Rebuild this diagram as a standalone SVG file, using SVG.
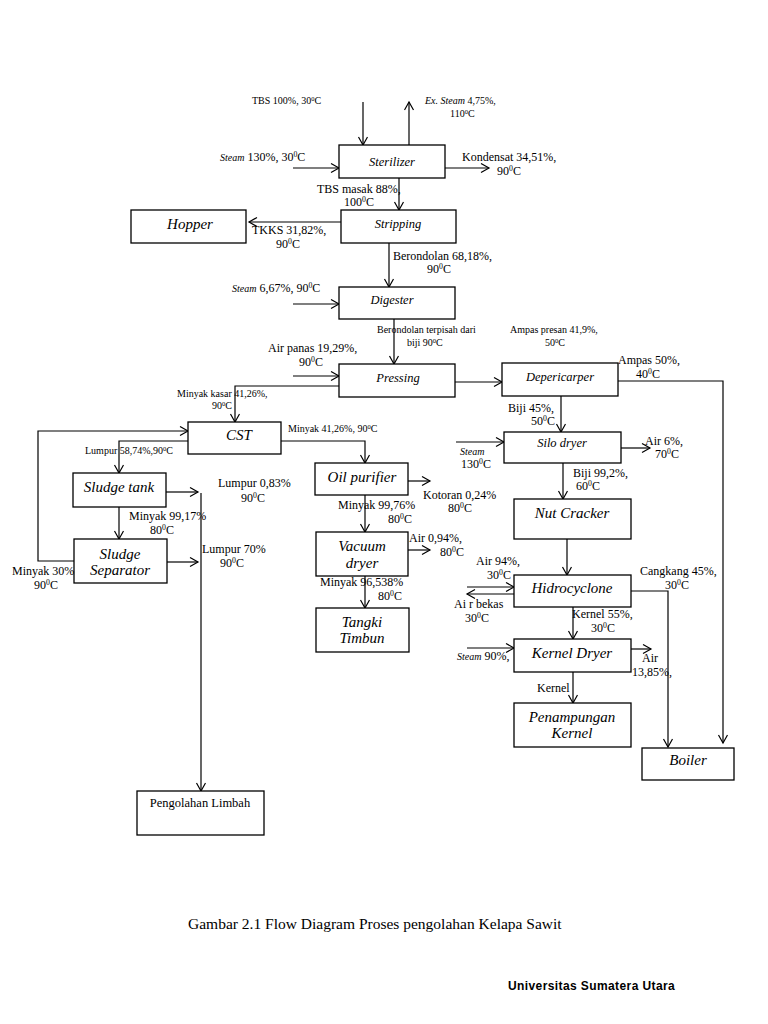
<svg xmlns="http://www.w3.org/2000/svg" width="768" height="1024" viewBox="0 0 768 1024">
<defs>
<marker id="a" markerUnits="userSpaceOnUse" markerWidth="12" markerHeight="12" refX="9" refY="5" orient="auto"><path d="M1,0.5 L9,5 L1,9.5" fill="none" stroke="#000" stroke-width="1.2"/></marker>
<style>
.box{fill:#fff;stroke:#000;stroke-width:1.3}
.c{fill:none;stroke:#000;stroke-width:1.2}
.ar{marker-end:url(#a)}
text{font-family:"Liberation Serif","Times New Roman",serif;fill:#000}
.n{font-style:italic;text-anchor:middle;font-size:15px}
.ns{font-style:italic;text-anchor:middle;font-size:12.5px}
.l{font-size:12px}
.s{font-size:10px}
.i{font-style:italic}
.sup{font-size:65%;baseline-shift:super}
</style>
</defs>
<rect width="768" height="1024" fill="#fff"/>
<g id="connectors">
<path class="c ar" d="M363,102 V145"/>
<path class="c ar" d="M409,145 V102"/>
<path class="c ar" d="M293,168 H339"/>
<path class="c ar" d="M445,168 H489"/>
<path class="c ar" d="M399,178 V210"/>
<path class="c ar" d="M341,222 H249"/>
<path class="c ar" d="M389,243 V287"/>
<path class="c ar" d="M293,304 H339"/>
<path class="c ar" d="M394,319 V364"/>
<path class="c ar" d="M293,376 H339"/>
<path class="c ar" d="M455,382 H502"/>
<path class="c ar" d="M339,386 H235 V422"/>
<path class="c ar" d="M618,381 H723 V743"/>
<path class="c ar" d="M281,441 H365 V463"/>
<path class="c ar" d="M188,441 H119 V473"/>
<path class="c ar" d="M119,507 V539"/>
<path class="c ar" d="M166,492 H198"/>
<path class="c ar" d="M201,493 V791"/>
<path class="c ar" d="M167,562 H198"/>
<path class="c ar" d="M74,561 H38 V431 H188"/>
<path class="c ar" d="M408,481 H430"/>
<path class="c ar" d="M365,495 V532"/>
<path class="c ar" d="M408,550 H430"/>
<path class="c ar" d="M365,576 V608"/>
<path class="c ar" d="M561,396 V432"/>
<path class="c ar" d="M456,442 H504"/>
<path class="c ar" d="M618,448 H650"/>
<path class="c ar" d="M563,463 V499"/>
<path class="c ar" d="M567,539 V575"/>
<path class="c ar" d="M467,587 H514"/>
<path class="c ar" d="M514,594 H467"/>
<path class="c ar" d="M631,591 H668 V747"/>
<path class="c ar" d="M573,607 V639"/>
<path class="c ar" d="M467,648 H514"/>
<path class="c ar" d="M631,649 H651"/>
<path class="c ar" d="M573,672 V703"/>
</g>
<g id="sterilizer"><rect class="box" x="339" y="145" width="106" height="33"/><text class="ns" x="392" y="166">Sterilizer</text></g>
<g id="stripping"><rect class="box" x="341" y="210" width="115" height="33"/><text class="ns" x="398" y="228">Stripping</text></g>
<g id="hopper"><rect class="box" x="131" y="210" width="115" height="33"/><text class="n" x="190" y="229">Hopper</text></g>
<g id="digester"><rect class="box" x="339" y="287" width="116" height="32"/><text class="ns" x="392" y="304">Digester</text></g>
<g id="pressing"><rect class="box" x="339" y="364" width="116" height="33"/><text class="ns" x="398" y="382">Pressing</text></g>
<g id="depericarper"><rect class="box" x="502" y="363" width="116" height="33"/><text class="ns" x="560" y="381">Depericarper</text></g>
<g id="cst"><rect class="box" x="188" y="422" width="93" height="32"/><text class="n" x="239" y="440">CST</text></g>
<g id="sludge-tank"><rect class="box" x="73" y="473" width="93" height="34"/><text class="n" x="119" y="492">Sludge tank</text></g>
<g id="sludge-separator"><rect class="box" x="74" y="539" width="93" height="44"/><text class="n" x="120" y="559">Sludge</text><text class="n" x="120" y="575">Separator</text></g>
<g id="oil-purifier"><rect class="box" x="315" y="463" width="93" height="32"/><text class="n" x="362" y="482">Oil purifier</text></g>
<g id="vacuum-dryer"><rect class="box" x="316" y="532" width="92" height="44"/><text class="n" x="362" y="551">Vacuum</text><text class="n" x="362" y="568">dryer</text></g>
<g id="tangki-timbun"><rect class="box" x="316" y="608" width="93" height="44"/><text class="n" x="362" y="627">Tangki</text><text class="n" x="362" y="643">Timbun</text></g>
<g id="silo-dryer"><rect class="box" x="504" y="432" width="117" height="31"/><text class="ns" x="562" y="447">Silo dryer</text></g>
<g id="nut-cracker"><rect class="box" x="514" y="499" width="117" height="40"/><text class="n" x="572" y="518">Nut Cracker</text></g>
<g id="hidrocyclone"><rect class="box" x="514" y="575" width="117" height="32"/><text class="n" x="572" y="593">Hidrocyclone</text></g>
<g id="kernel-dryer"><rect class="box" x="514" y="639" width="117" height="33"/><text class="n" x="572" y="658">Kernel Dryer</text></g>
<g id="penampungan-kernel"><rect class="box" x="514" y="703" width="117" height="44"/><text class="n" x="572" y="722">Penampungan</text><text class="n" x="572" y="738">Kernel</text></g>
<g id="boiler"><rect class="box" x="642" y="748" width="92" height="32"/><text class="n" x="688" y="765">Boiler</text></g>
<g id="pengolahan-limbah"><rect class="box" x="137" y="791" width="127" height="44"/><text x="200" y="807" text-anchor="middle" style="font-size:12.5px">Pengolahan Limbah</text></g>
<g id="labels">
<text class="s" x="252" y="104">TBS 100%, 30<tspan class="sup">0</tspan>C</text>
<text class="s" x="425" y="104"><tspan class="i">Ex. Steam</tspan> 4,75%,</text>
<text class="s" x="450" y="117">110<tspan class="sup">0</tspan>C</text>
<text class="l" x="220" y="161"><tspan class="i" style="font-size:10px">Steam</tspan> 130%, 30<tspan class="sup">0</tspan>C</text>
<text class="l" x="462" y="161">Kondensat 34,51%,</text>
<text class="l" x="497" y="175">90<tspan class="sup">0</tspan>C</text>
<text class="l" x="317" y="193">TBS masak 88%,</text>
<text class="l" x="344" y="206">100<tspan class="sup">0</tspan>C</text>
<text class="l" x="252" y="234">TKKS 31,82%,</text>
<text class="l" x="276" y="248">90<tspan class="sup">0</tspan>C</text>
<text class="l" x="393" y="260">Berondolan 68,18%,</text>
<text class="l" x="427" y="273">90<tspan class="sup">0</tspan>C</text>
<text class="l" x="232" y="292"><tspan class="i" style="font-size:10px">Steam</tspan> 6,67%, 90<tspan class="sup">0</tspan>C</text>
<text class="s" x="377" y="333">Berondolan terpisah dari</text>
<text class="s" x="407" y="346">biji  90<tspan class="sup">0</tspan>C</text>
<text class="s" x="510" y="333">Ampas presan 41,9%,</text>
<text class="s" x="545" y="346">50<tspan class="sup">0</tspan>C</text>
<text class="l" x="268" y="352">Air panas 19,29%,</text>
<text class="l" x="299" y="366">90<tspan class="sup">0</tspan>C</text>
<text class="l" x="618" y="364">Ampas 50%,</text>
<text class="l" x="636" y="378">40<tspan class="sup">0</tspan>C</text>
<text class="s" x="177" y="397">Minyak kasar 41,26%,</text>
<text class="s" x="212" y="409">90<tspan class="sup">0</tspan>C</text>
<text class="s" x="288" y="432">Minyak 41,26%, 90<tspan class="sup">0</tspan>C</text>
<text class="s" x="85" y="454">Lumpur 58,74%,90<tspan class="sup">0</tspan>C</text>
<text class="l" x="508" y="412">Biji 45%,</text>
<text class="l" x="531" y="425">50<tspan class="sup">0</tspan>C</text>
<text class="s i" x="460" y="455">Steam</text>
<text class="l" x="461" y="468">130<tspan class="sup">0</tspan>C</text>
<text class="l" x="645" y="445">Air  6%,</text>
<text class="l" x="655" y="458">70<tspan class="sup">0</tspan>C</text>
<text class="l" x="573" y="477">Biji 99,2%,</text>
<text class="l" x="576" y="490">60<tspan class="sup">0</tspan>C</text>
<text class="l" x="218" y="487">Lumpur 0,83%</text>
<text class="l" x="241" y="502">90<tspan class="sup">0</tspan>C</text>
<text class="l" x="423" y="499">Kotoran 0,24%</text>
<text class="l" x="448" y="512">80<tspan class="sup">0</tspan>C</text>
<text class="l" x="129" y="520">Minyak 99,17%</text>
<text class="l" x="150" y="534">80<tspan class="sup">0</tspan>C</text>
<text class="l" x="338" y="509">Minyak 99,76%</text>
<text class="l" x="388" y="523">80<tspan class="sup">0</tspan>C</text>
<text class="l" x="409" y="542">Air  0,94%,</text>
<text class="l" x="440" y="556">80<tspan class="sup">0</tspan>C</text>
<text class="l" x="202" y="553">Lumpur 70%</text>
<text class="l" x="220" y="567">90<tspan class="sup">0</tspan>C</text>
<text class="l" x="12" y="575">Minyak 30%</text>
<text class="l" x="34" y="589">90<tspan class="sup">0</tspan>C</text>
<text class="l" x="320" y="586">Minyak 96,538%</text>
<text class="l" x="378" y="600">80<tspan class="sup">0</tspan>C</text>
<text class="l" x="476" y="565">Air 94%,</text>
<text class="l" x="487" y="579">30<tspan class="sup">0</tspan>C</text>
<text class="l" x="640" y="575">Cangkang 45%,</text>
<text class="l" x="665" y="589">30<tspan class="sup">0</tspan>C</text>
<text class="l" x="454" y="608">Ai r bekas</text>
<text class="l" x="465" y="622">30<tspan class="sup">0</tspan>C</text>
<text class="l" x="572" y="618">Kernel 55%,</text>
<text class="l" x="591" y="632">30<tspan class="sup">0</tspan>C</text>
<text class="l" x="457" y="660"><tspan class="i" style="font-size:10px">Steam</tspan> 90%,</text>
<text class="l" x="642" y="662">Air</text>
<text class="l" x="632" y="676">13,85%,</text>
<text class="l" x="537" y="692">Kernel</text>
</g>
<text x="188" y="929" style="font-size:15.5px">Gambar 2.1 Flow Diagram Proses pengolahan Kelapa Sawit</text>
<text x="508" y="990" style="font-family:'Liberation Sans',Arial,sans-serif;font-weight:bold;font-size:12px;letter-spacing:0.4px">Universitas Sumatera Utara</text>
</svg>
